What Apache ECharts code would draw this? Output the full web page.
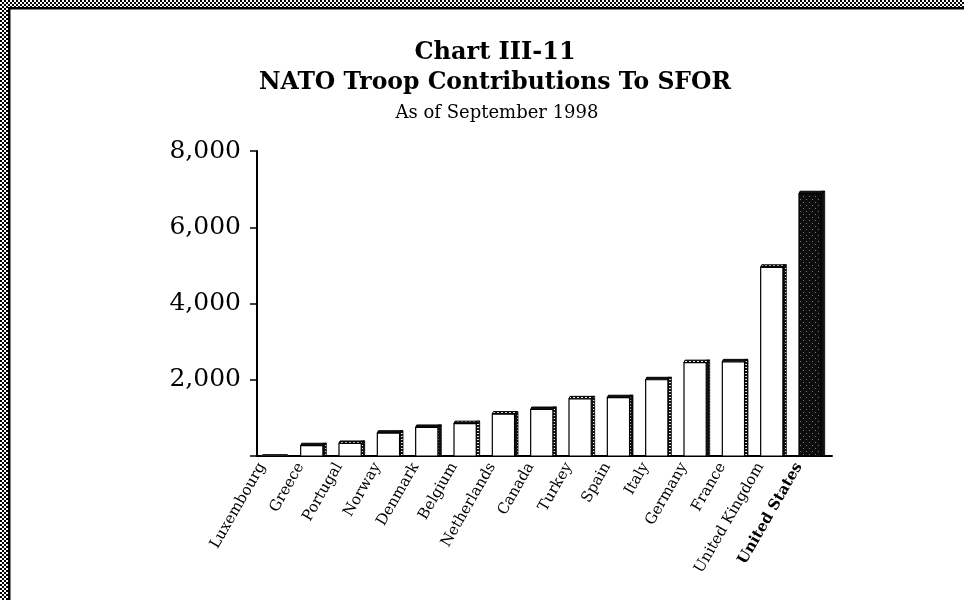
<!DOCTYPE html>
<html lang="en">
<head>
    <meta charset="UTF-8">
    <title>NATO Troop Contributions To SFOR</title>
    <script src="https://cdn.jsdelivr.net/npm/echarts@6.0.0/dist/echarts.min.js"></script>
    <style>
        html, body { margin: 0; padding: 0; background: #fff; }
        #main { width: 964px; height: 600px; }
    </style>
</head>
<body>
    <div id="main"></div>
    <script>
        // Chart data
        const countries = ['Luxembourg', 'Greece', 'Portugal', 'Norway', 'Denmark', 'Belgium', 'Netherlands',
            'Canada', 'Turkey', 'Spain', 'Italy', 'Germany', 'France', 'United Kingdom', 'United States'];
        const troops = [20, 270, 330, 600, 750, 850, 1100, 1220, 1500, 1530, 2000, 2450, 2470, 4950, 6880];
        const yTicks = [0, 2000, 4000, 6000, 8000];

        // small bitmap patterns for the scanned look
        function makePattern(w, h, bg, fg, dots) {
            const c = document.createElement('canvas');
            c.width = w; c.height = h;
            const ctx = c.getContext('2d');
            ctx.fillStyle = bg;
            ctx.fillRect(0, 0, w, h);
            ctx.fillStyle = fg;
            dots.forEach(d => ctx.fillRect(d[0], d[1], d[2] || 1, d[3] || 1));
            return { image: c, repeat: 'repeat' };
        }
        const hatch = makePattern(4, 4, '#fff', '#000', [[0, 0, 2, 2], [2, 2, 2, 2]]);
        const sideDots = makePattern(4, 3, '#111', '#eee', [[1, 1, 2, 1]]);
        const darkFace = makePattern(6, 6, '#0d0d0d', '#777', [[2, 1], [5, 4]]);

        const serif = '"DejaVu Serif", "Liberation Serif", serif';

        function renderBar(params, api) {
            const idx = api.value(0);
            const val = api.value(1);
            const top = api.coord([idx, val]);
            const base = api.coord([idx, 0]);
            const band = api.size([1, 0])[0];
            const faceW = band * 0.58;
            const d = band * 0.09;
            const l = top[0] - (faceW + d) / 2 - 1;
            const r = l + faceW;
            const y = top[1];
            const h = base[1] - y;
            const isUS = idx === countries.length - 1;
            const kids = [];
            if (h < 3) {
                // near-zero bar: just a flat dark mound on the axis
                kids.push({
                    type: 'rect',
                    shape: { x: l, y: base[1] - 2, width: faceW + d, height: 2, r: 1 },
                    style: { fill: '#222' }
                });
                return { type: 'group', children: kids };
            }
            kids.push({
                type: 'rect',
                shape: { x: r, y: y - d + 1, width: d, height: base[1] - y + d - 1 },
                style: { fill: isUS ? '#111' : sideDots, stroke: '#000', lineWidth: 0.8 }
            });
            kids.push({
                type: 'polygon',
                shape: { points: [[l, y], [l + 1, y - d + 1], [r + d, y - d + 1], [r, y]] },
                style: { fill: isUS ? '#111' : sideDots, stroke: '#000', lineWidth: 1 }
            });
            kids.push({
                type: 'rect',
                shape: { x: l, y: y, width: faceW, height: h },
                style: { fill: isUS ? darkFace : '#fff', stroke: '#000', lineWidth: 1.2 }
            });
            return { type: 'group', children: kids };
        }

        const chart = echarts.init(document.getElementById('main'));
        chart.setOption({
            animation: false,
            backgroundColor: '#fff',
            title: [
                {
                    text: 'Chart III-11', left: 490, top: 36, textAlign: 'center',
                    textStyle: { fontFamily: serif, fontSize: 24, fontWeight: 'bold', color: '#000' }
                },
                {
                    text: 'NATO Troop Contributions To SFOR', left: 490, top: 66, textAlign: 'center',
                    textStyle: { fontFamily: serif, fontSize: 23.5, fontWeight: 'bold', color: '#000' }
                },
                {
                    text: 'As of September 1998', left: 492, top: 99, textAlign: 'center',
                    textStyle: { fontFamily: serif, fontSize: 18, fontWeight: 'normal', color: '#000' }
                }
            ],
            graphic: [
                { type: 'rect', shape: { x: 0, y: 0, width: 964, height: 7 }, style: { fill: hatch } },
                { type: 'rect', shape: { x: 0, y: 0, width: 8, height: 600 }, style: { fill: hatch } },
                { type: 'rect', shape: { x: 8, y: 7, width: 956, height: 2.5 }, style: { fill: '#000' } },
                { type: 'rect', shape: { x: 8, y: 7, width: 2.5, height: 593 }, style: { fill: '#000' } }
            ],
            grid: { left: 257, right: 132, top: 151, bottom: 144 },
            xAxis: {
                type: 'category',
                data: countries,
                axisLine: { lineStyle: { color: '#000', width: 2 } },
                axisTick: { length: 5, lineStyle: { color: '#000', width: 1.5 } },
                axisLabel: {
                    interval: 0,
                    rotate: 60,
                    margin: 8,
                    padding: [0, 7, 24, 0],
                    fontFamily: serif,
                    fontSize: 15,
                    color: '#000',
                    formatter: v => v === 'United States' ? '{b|' + v + '}' : v,
                    rich: { b: { fontFamily: serif, fontSize: 15, fontWeight: 'bold', color: '#000' } }
                }
            },
            yAxis: {
                type: 'value',
                min: yTicks[0],
                max: yTicks[yTicks.length - 1],
                interval: yTicks[1] - yTicks[0],
                splitLine: { show: false },
                axisLine: { show: true, lineStyle: { color: '#000', width: 2 } },
                axisTick: { show: true, length: 7, lineStyle: { color: '#000', width: 1.5 } },
                axisLabel: {
                    margin: 16,
                    fontFamily: serif,
                    fontSize: 25,
                    color: '#000',
                    formatter: v => v === 0 ? '' : v.toLocaleString('en-US')
                }
            },
            series: [{
                type: 'custom',
                renderItem: renderBar,
                encode: { x: 0, y: 1 },
                data: troops.map((v, i) => [i, v])
            }]
        });
    </script>
</body>
</html>
